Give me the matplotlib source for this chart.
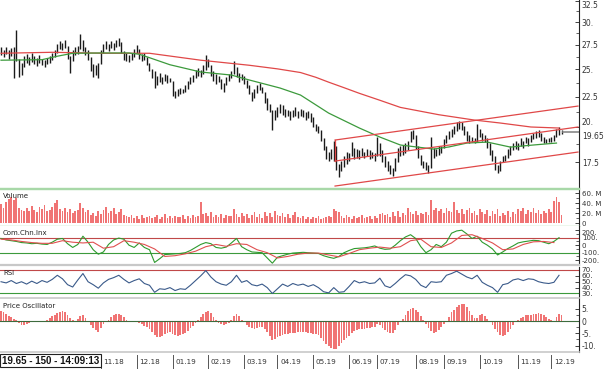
import numpy as np
import matplotlib.pyplot as plt
from matplotlib.ticker import FixedLocator, NullFormatter
from matplotlib.transforms import blended_transform_factory

# daily bars, high / low
hi = [27.2, 26.9, 27.3, 26.9, 27.1, 27.3, 29.1, 26.0, 25.6, 26.3,
      26.5, 26.2, 26.6, 26.3, 26.1, 26.4, 26.0, 25.9, 26.1, 26.3,
      26.6, 26.9, 27.6, 27.9, 27.7, 28.0, 27.4, 26.3, 26.9, 27.2,
      27.4, 28.6, 28.0, 27.3, 26.9, 26.2, 25.5, 25.4, 25.6, 26.9,
      27.6, 27.9, 27.6, 27.9, 27.7, 28.0, 28.2, 27.8, 26.8, 26.6,
      26.4, 26.6, 27.0, 27.5, 27.0, 26.5, 26.6, 26.2, 25.6, 25.0,
      24.8, 24.4, 24.7, 24.3, 24.6, 24.5, 24.2, 23.9, 23.0, 23.2,
      23.3, 23.2, 23.5, 23.9, 24.3, 24.5, 24.9, 25.1, 24.9, 25.4,
      26.4, 26.0, 25.4, 24.8, 24.6, 24.4, 24.1, 23.7, 24.3, 24.6,
      24.8, 25.8, 25.2, 24.7, 24.6, 24.4, 24.0, 23.5, 22.9, 23.2,
      23.5, 23.7, 23.4, 22.9, 22.4, 21.9, 21.4, 21.4, 21.6, 21.9,
      21.8, 21.5, 21.4, 21.3, 21.4, 21.6, 21.3, 21.5, 21.4, 21.2,
      21.3, 21.1, 20.8, 20.3, 20.1, 19.8, 19.2, 18.6, 18.2, 18.4,
      19.0, 18.6, 17.4, 17.6, 17.9, 18.2, 18.1, 18.9, 18.5, 18.4,
      18.3, 18.5, 18.2, 18.4, 18.3, 18.2, 18.1, 19.3, 18.8, 18.3,
      17.9, 17.6, 17.3, 17.1, 17.8, 18.5, 18.6, 18.7, 18.8, 19.0,
      19.7, 19.8, 19.4, 18.6, 18.0, 17.6, 17.5, 17.3, 19.3, 18.5,
      18.4, 18.6, 18.6, 19.1, 19.4, 19.7, 19.9, 20.1, 20.4, 20.5,
      20.4, 20.1, 19.7, 19.4, 19.3, 19.2, 20.3, 19.9, 19.6, 19.4,
      19.2, 18.8, 18.3, 17.9, 17.3, 17.6, 17.9, 18.0, 18.4, 18.6,
      18.8, 19.0, 18.8, 19.2, 19.0, 19.3, 19.2, 19.4, 19.6, 19.7,
      19.8, 19.6, 19.3, 19.1, 19.2, 19.3, 19.4, 19.9, 20.0, 19.8]
lo = [26.4, 26.2, 26.5, 26.0, 26.3, 24.2, 25.8, 24.3, 24.5, 25.2,
      25.6, 25.4, 25.7, 25.5, 25.3, 25.6, 25.4, 25.2, 25.5, 25.6,
      25.9, 26.2, 26.6, 27.0, 26.9, 27.1, 26.0, 24.7, 25.8, 26.4,
      26.5, 27.0, 26.8, 26.4, 25.9, 24.8, 24.3, 24.5, 24.2, 25.5,
      26.6, 27.0, 26.8, 27.1, 26.9, 27.2, 27.4, 26.6, 25.9, 25.8,
      25.7, 25.9, 26.2, 26.6, 26.0, 25.8, 25.9, 25.4, 24.8, 24.2,
      23.3, 23.5, 23.8, 23.6, 23.9, 23.7, 23.8, 22.6, 22.4, 22.6,
      22.7, 22.8, 22.9, 23.2, 23.6, 23.8, 24.2, 24.4, 24.3, 24.6,
      24.9, 25.2, 24.4, 23.9, 23.6, 23.8, 23.2, 22.9, 23.5, 23.9,
      24.2, 24.6, 24.3, 23.8, 24.0, 23.6, 23.3, 22.7, 22.1, 22.4,
      22.8, 23.1, 22.8, 22.0, 21.4, 21.2, 19.8, 20.6, 20.8, 21.1,
      21.0, 20.8, 20.9, 20.6, 20.8, 20.9, 20.7, 20.9, 20.8, 20.6,
      20.7, 20.4, 20.0, 19.7, 19.6, 19.0, 18.3, 17.7, 17.6, 17.7,
      17.6, 17.0, 16.5, 16.9, 17.2, 17.4, 17.6, 17.9, 17.7, 17.8,
      17.7, 17.9, 17.8, 17.9, 17.7, 17.8, 17.6, 17.9, 17.9, 17.5,
      17.2, 16.9, 16.7, 16.6, 16.9, 17.5, 17.9, 18.0, 18.1, 18.3,
      18.9, 19.1, 18.4, 17.8, 17.3, 17.1, 17.0, 16.8, 17.1, 17.8,
      17.9, 18.0, 18.1, 18.5, 18.8, 19.1, 19.3, 19.5, 19.7, 19.9,
      19.8, 19.4, 19.0, 18.8, 18.9, 18.8, 18.9, 19.3, 19.0, 18.9,
      18.5, 18.0, 17.6, 17.0, 16.8, 16.9, 17.5, 17.6, 17.8, 18.0,
      18.3, 18.4, 18.3, 18.6, 18.5, 18.8, 18.6, 18.9, 19.1, 19.2,
      19.3, 19.0, 18.8, 18.8, 18.9, 18.9, 19.0, 19.3, 19.4, 19.5]
last_price = 19.65

# moving averages (bar index, value)
ma_long_bar = [0, 20, 40, 58, 78, 97, 108, 117, 123, 128, 134, 140, 148, 156, 171, 185, 195, 207, 218]
ma_long = [26.6, 26.7, 26.6, 26.6, 25.9, 25.4, 25.05, 24.7, 24.25, 23.8, 23.3, 22.8, 22.2, 21.6, 21.0,
           20.57, 20.34, 20.03, 19.95]
ma_short_bar = [0, 16, 22, 28, 39, 50, 54, 58, 66, 78, 90, 97, 109, 117, 128, 140, 148, 156, 169, 175, 182, 190, 199, 208, 217]
ma_short = [25.9, 25.95, 26.3, 26.6, 26.63, 26.63, 26.5, 26.15, 25.45, 24.75, 24.46, 24.0, 23.27, 22.65, 21.13,
            19.95, 19.27, 18.69, 18.4, 18.55, 18.83, 18.9, 18.54, 18.69, 18.83]

# trend channel end points
chan_bar = [130.5, 225.4]
chan_up = [19.05, 21.71]
chan_mid = [17.57, 20.03]
chan_low = [15.96, 18.19]

# volume in millions
vol = [38, 30, 43, 49, 53, 46, 50, 31, 27, 25,
       30, 24, 35, 26, 22, 33, 28, 36, 24, 27,
       32, 41, 47, 28, 25, 31, 22, 29, 20, 24,
       26, 41, 30, 22, 26, 17, 21, 15, 24, 19,
       27, 33, 20, 25, 30, 18, 22, 28, 16, 14,
       12, 16, 10, 14, 9, 17, 11, 13, 15, 10,
       12, 16, 9, 13, 18, 11, 14, 10, 15, 12,
       13, 17, 9, 14, 11, 16, 12, 15, 43, 18,
       20, 14, 22, 12, 17, 13, 19, 11, 16, 14,
       15, 28, 18, 12, 21, 14, 19, 10, 16, 22,
       13, 18, 11, 23, 15, 20, 12, 24, 17, 14,
       21, 12, 18, 10, 16, 22, 13, 11, 15, 9,
       12, 9, 13, 10, 14, 8, 11, 13, 15, 12,
       28, 25, 22, 14, 10, 16, 12, 9, 15, 11,
       13, 17, 10, 12, 15, 9, 14, 11, 18, 21,
       16, 19, 13, 22, 15, 24, 12, 20, 17, 31,
       22, 18, 24, 16, 21, 19, 23, 17, 47, 26,
       30, 24, 28, 21, 31, 25, 22, 43, 27, 20,
       29, 18, 26, 31, 20, 24, 17, 28, 22, 19,
       26, 15, 24, 18, 28, 14, 21, 17, 25, 13,
       22, 18, 29, 24, 31, 19, 27, 22, 30, 20,
       26, 18, 24, 20, 28, 22, 45, 53, 43, 16]

# commodity channel index (every 2nd bar) and its average (every 4th bar)
cci = [90, 70, 60, 50, 35, 30, 20, 25, 15, 10,
       40, 80, 90, 20, -30, 10, 120, 40, -60, -120,
       -90, 10, 70, 95, 80, 0, -30, 30, -30, -60,
       -230, -180, -125, -120, -115, -110, -100, -70, -30, 10,
       35, 20, -30, -40, -25, 30, 90, -20, -60, -90,
       -95, -100, -170, -240, -160, -140, -120, -105, -100, -95,
       -100, -105, -110, -140, -160, -175, -150, -100, -70, -45,
       -40, -35, -25, -10, -40, -55, -50, 0, 60, 110,
       140, 90, -20, -100, -60, 10, -20, 40, 160, 190,
       200, 150, 90, 120, 40, 0, -50, -130, -90, -45,
       -10, 30, 45, 55, 65, 60, 40, 20, 50, 100]
cci_ma = [80, 70, 50, 35, 25, 25, 60, 40, 30, 40,
          -40, -20, 60, 40, 10, -50, -150, -140, -115, -80,
          -20, 10, -15, 20, 10, -60, -100, -170, -150, -120,
          -105, -105, -130, -155, -110, -60, -40, -25, -40, -20,
          60, 80, -20, -30, 30, 130, 140, 90, 30, -60,
          -50, 10, 45, 50, 35]

# relative strength index (every 2nd bar)
rsi = [50, 48, 52, 47, 50, 46, 51, 47, 52, 49,
       54, 61, 55, 45, 41, 53, 64, 50, 45, 39,
       48, 54, 57, 61, 54, 48, 52, 55, 47, 44,
       32, 38, 37, 40, 35, 38, 37, 44, 52, 60,
       69, 58, 50, 46, 44, 50, 61, 49, 52, 45,
       43, 46, 40, 30, 38, 46, 42, 47, 44, 46,
       42, 45, 40, 33, 31, 40, 32, 33, 42, 52,
       48, 50, 47, 48, 56, 43, 40, 47, 55, 62,
       60, 54, 44, 40, 50, 49, 50, 61, 64, 68,
       63, 58, 55, 61, 49, 44, 40, 32, 45, 47,
       53, 55, 52, 55, 54, 50, 48, 47, 49, 61]

# price oscillator, one value per bar
osc = [4.2, 3.8, 3.0, 2.0, 1.5, 0.9, 0.4, -0.8, -1.5, -1.8,
       -1.2, -0.6, -0.3, -0.2, -0.4, -0.3, -0.2, -0.1, 0.3, 1.2,
       2.0, 2.6, 3.2, 3.7, 4.1, 3.5, 2.4, 1.2, 0.5, -0.2,
       0.8, 2.2, 2.5, 1.4, -0.5, -1.8, -2.8, -3.6, -4.3, -2.8,
       -1.2, -0.5, 0.6, 1.6, 2.3, 2.7, 2.9, 2.6, 1.5, 0.3,
       -0.3, -0.5, -0.2, 0.1, -0.7, -1.4, -2.0, -2.6, -3.4, -4.5,
       -5.8, -6.7, -6.5, -6.0, -5.4, -5.0, -4.6, -5.2, -5.8, -6.0,
       -5.6, -5.3, -4.8, -4.0, -3.0, -2.0, -0.8, 0.6, 1.8, 2.8,
       3.5, 4.1, 3.2, 1.8, 0.4, -0.6, -1.2, -1.5, -1.2, -0.6,
       0.5, 2.0, 2.8, 1.9, 0.3, -0.4, -1.5, -2.4, -3.0, -3.2,
       -3.0, -2.6, -2.5, -3.4, -4.6, -6.2, -7.6, -7.2, -6.5, -6.0,
       -5.7, -5.5, -5.2, -5.0, -4.9, -4.7, -4.6, -4.4, -4.3, -4.5,
       -4.7, -4.9, -5.2, -5.4, -5.9, -6.8, -8.0, -9.2, -10.3, -11.2,
       -11.6, -11.4, -10.2, -8.8, -7.8, -7.0, -6.2, -5.0, -4.1, -3.6,
       -3.4, -3.3, -3.1, -3.0, -2.8, -2.6, -2.3, -1.2, -1.8, -2.8,
       -3.6, -4.3, -4.8, -4.9, -3.5, -1.8, -0.2, 0.8, 2.6, 4.0,
       5.0, 5.3, 4.5, 3.8, 2.0, 0.5, -1.2, -2.8, -4.2, -5.0,
       -4.4, -3.5, -2.6, -1.4, -0.5, 1.6, 3.8, 4.6, 5.6, 6.6,
       7.1, 6.8, 5.6, 4.0, 2.6, 1.2, 1.4, 2.6, 3.0, 2.2,
       0.9, -0.5, -1.8, -3.2, -4.6, -5.7, -6.3, -5.6, -4.4, -3.2,
       -1.8, -0.5, 0.3, 1.2, 1.8, 2.3, 2.5, 2.6, 2.8, 3.0,
       3.1, 2.9, 2.5, 1.8, 0.8, 0.3, 0.1, 1.5, 2.8, 2.6]

months = ['11.18', '12.18', '01.19', '02.19', '03.19', '04.19', '05.19',
          '06.19', '07.19', '08.19', '09.19', '10.19', '11.19', '12.19']
month_bar = [39, 53, 67, 81, 95, 108, 122, 136, 147, 162, 173, 187, 202, 215]

x = np.arange(len(hi))
x2 = np.arange(0, len(hi), 2)
x4 = np.arange(0, len(hi), 4)

RED = '#e04848'
GREEN = '#3c9a3c'
BAR = '#f07474'
LAB = '#333333'

fig = plt.figure(figsize=(6.05, 3.69), dpi=100)
H = 369.0
W = 605.0


def panel(top, bottom):
    ax = fig.add_axes([0, 1 - bottom / H, 579 / W, (bottom - top) / H])
    ax.set_xlim(-0.4, 225.8)
    for s in ['left', 'top', 'bottom']:
        ax.spines[s].set_visible(False)
    ax.spines['right'].set_linewidth(0.8)
    ax.spines['right'].set_color('#222222')
    ax.yaxis.tick_right()
    ax.tick_params(axis='y', which='both', direction='in', labelsize=5.5,
                   pad=2, colors='#222222', labelcolor=LAB)
    ax.tick_params(axis='y', which='major', length=3, width=0.6)
    ax.tick_params(axis='y', which='minor', length=2, width=0.5)
    ax.set_xticks([])
    return ax


# price
ax = panel(0, 188)
ax.set_yscale('log')
ax.vlines(x, lo, hi, color='#1a1a1a', lw=1.0)
ax.plot(ma_long_bar, ma_long, color=RED, lw=0.9)
ax.plot(ma_short_bar, ma_short, color=GREEN, lw=0.9)
for c in [chan_up, chan_mid, chan_low]:
    ax.plot(chan_bar, c, color=RED, lw=0.9)
ax.plot([chan_bar[0], chan_bar[0]], [chan_mid[0], chan_up[0]], color=RED, lw=0.9)
ax.plot([x[-1] + 0.5, 225.8], [last_price, last_price], color='#888888', lw=1.2)
ax.set_ylim(15.84, 32.65)
ax.yaxis.set_major_locator(FixedLocator([17.5, 20, 22.5, 25, 27.5, 30, 32.5]))
ax.set_yticklabels(['17.5', '20.', '22.5', '25.', '27.5', '30.', '32.5'])
ax.yaxis.set_minor_locator(FixedLocator([18.75, 21.25, 23.75, 26.25, 28.75, 31.25]))
ax.yaxis.set_minor_formatter(NullFormatter())
tl = ax.get_yticklabels()
tl[1].set_va('bottom')
tl[-1].set_va('top')
ax.text(1.005, last_price, '19.65', transform=blended_transform_factory(ax.transAxes, ax.transData),
        fontsize=5.5, color=LAB, va='top', ha='left',
        bbox=dict(boxstyle='square,pad=0.1', fc='white', ec='none'))
ax.spines['bottom'].set_visible(True)
ax.spines['bottom'].set_color('#a8d8a8')
ax.spines['bottom'].set_linewidth(1.0)

# volume
av = panel(189, 226)
av.bar(x, vol, width=0.7, color=BAR, lw=0)
av.set_ylim(-5, 68)
av.set_yticks([0, 20, 40, 60])
av.set_yticklabels(['0', '20. M', '40. M', '60. M'])
av.tick_params(axis='y', labelsize=5)
av.yaxis.set_minor_locator(FixedLocator([10, 30, 50]))
for s in ['top', 'bottom']:
    av.spines[s].set_visible(True)
    av.spines[s].set_color('#a8d8a8')
    av.spines[s].set_linewidth(1.0)
av.text(0.005, 0.8, 'Volume', transform=av.transAxes, fontsize=5, color='#222222', va='center')

# commodity channel index
ac = panel(226, 265)
ac.axhline(100, color='#c04848', lw=0.8)
ac.axhline(-100, color=GREEN, lw=0.8)
ac.plot(x2, cci, color='#2e9a2e', lw=0.8)
ac.plot(x4, cci_ma, color='#e05050', lw=0.8)
ac.set_ylim(-264, 256)
ac.set_yticks([-200, -100, 0, 100, 200])
ac.set_yticklabels(['-200.', '-100.', '0', '100.', '200.'])
ac.tick_params(axis='y', labelsize=5)
ac.get_yticklabels()[-1].set_va('top')
ac.yaxis.set_minor_locator(FixedLocator([-150, -50, 50, 150]))
ac.spines['bottom'].set_visible(True)
ac.spines['bottom'].set_color('#c8c8c8')
ac.spines['bottom'].set_linewidth(1.6)
ac.text(0.005, 0.82, 'Com.Chn.Inx', transform=ac.transAxes, fontsize=5, color='#222222', va='center')

# rsi
ar = panel(267, 298)
ar.axhline(70, color='#c04848', lw=0.8)
ar.axhline(30, color=GREEN, lw=0.8)
ar.plot(x2, rsi, color='#3a5a8a', lw=0.8)
ar.set_ylim(22.3, 75.1)
ar.set_yticks([30, 40, 50, 60, 70])
ar.set_yticklabels(['30.', '40.', '50.', '60.', '70.'])
ar.tick_params(axis='y', labelsize=5.2, pad=2)
ar.spines['bottom'].set_visible(True)
ar.spines['bottom'].set_color('#c8c8c8')
ar.spines['bottom'].set_linewidth(1.2)
ar.text(0.005, 0.8, 'RSI', transform=ar.transAxes, fontsize=5, color='#222222', va='center')

# price oscillator
ao = panel(299, 352)
ao.bar(x, osc, width=0.7, color=BAR, lw=0)
ao.axhline(0, color='#3d6b3d', lw=0.8)
ao.set_ylim(-12.65, 9.0)
ao.set_yticks([-10, -5, 0, 5])
ao.set_yticklabels(['-10.', '-5.', '0', '5.'])
ao.yaxis.set_minor_locator(FixedLocator([-7.5, -2.5, 2.5]))
ao.spines['bottom'].set_visible(True)
ao.spines['bottom'].set_color('#c8c8c8')
ao.spines['bottom'].set_linewidth(1.2)
ao.text(0.005, 0.87, 'Price Oscillator', transform=ao.transAxes, fontsize=5, color='#222222', va='center')

# month axis along the bottom
tr = blended_transform_factory(ao.transData, fig.transFigure)
for m, b in zip(months, month_bar):
    ao.plot([b, b], [1 - 355 / H, 1 - 368 / H], transform=tr, color='#555555', lw=0.7, clip_on=False)
    ao.text(b + 1.0, 1 - 361.5 / H, m, transform=tr, fontsize=5.2, color=LAB, va='center', ha='left')

fig.text(2 / W, 1 - 360.5 / H, '19.65 - 150 - 14:09:13', fontsize=7, fontweight='bold',
         family='Liberation Sans', color='#111111', va='center', ha='left',
         bbox=dict(boxstyle='square,pad=0.2', fc='white', ec='#222222', lw=0.8))

fig.savefig('out.png', dpi=100)
